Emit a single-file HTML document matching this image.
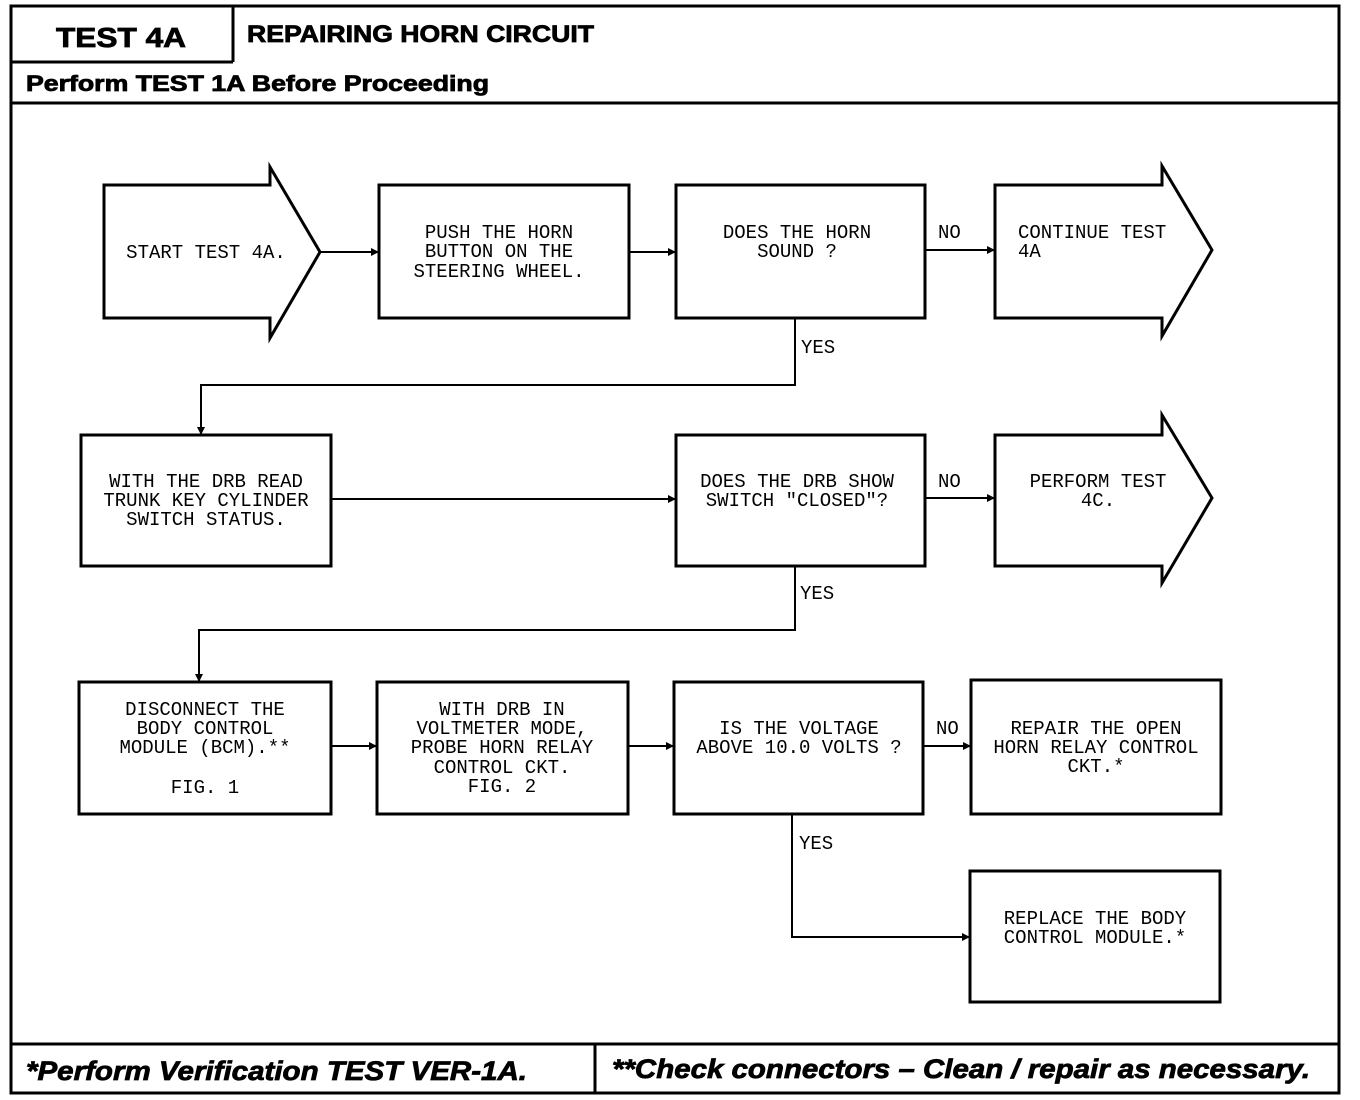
<!DOCTYPE html>
<html><head><meta charset="utf-8"><style>
html,body{margin:0;padding:0;background:#fff;}
svg{display:block}
.t{font-family:"Liberation Mono",monospace;font-size:19px;fill:#000;text-anchor:middle}
.l{font-family:"Liberation Mono",monospace;font-size:19px;fill:#000}
.h{font-family:"Liberation Sans",sans-serif;font-weight:bold;fill:#000;stroke:#000;stroke-width:0.8}
</style></head><body>
<svg width="1360" height="1100" viewBox="0 0 1360 1100" xmlns="http://www.w3.org/2000/svg">
<defs><marker id="a" markerWidth="8" markerHeight="8" refX="7" refY="4" orient="auto" markerUnits="userSpaceOnUse"><path d="M0,0 L8,4 L0,8 Z" fill="#000"/></marker></defs>
<g fill="none" stroke="#000" stroke-width="3">
<rect x="11" y="6" width="1328" height="1087"/>
<line x1="11" y1="62" x2="233" y2="62"/>
<line x1="233" y1="6" x2="233" y2="62"/>
<line x1="11" y1="103" x2="1339" y2="103"/>
<line x1="11" y1="1044" x2="1339" y2="1044"/>
<line x1="595" y1="1044" x2="595" y2="1093"/>
<path d="M104,185 H270 V167 L320,252 L270,338 V318 H104 Z"/>
<rect x="379" y="185" width="250" height="133"/>
<rect x="676" y="185" width="249" height="133"/>
<path d="M995,185 H1162 V166 L1212,250 L1162,336 V318 H995 Z"/>
<rect x="81" y="435" width="250" height="131"/>
<rect x="676" y="435" width="249" height="131"/>
<path d="M995,435 H1162 V415 L1212,498 L1162,583 V566 H995 Z"/>
<rect x="79" y="682" width="252" height="132"/>
<rect x="377" y="682" width="251" height="132"/>
<rect x="674" y="682" width="249" height="132"/>
<rect x="971" y="680" width="250" height="134"/>
<rect x="970" y="871" width="250" height="131"/>
</g>
<g fill="none" stroke="#000" stroke-width="2" marker-end="url(#a)">
<line x1="320" y1="252" x2="378" y2="252"/>
<line x1="629" y1="252" x2="675" y2="252"/>
<line x1="925" y1="250" x2="994" y2="250"/>
<polyline points="795,318 795,385 201,385 201,434"/>
<line x1="331" y1="499" x2="675" y2="499"/>
<line x1="925" y1="498" x2="994" y2="498"/>
<polyline points="795,566 795,630 199,630 199,681"/>
<line x1="331" y1="746" x2="376" y2="746"/>
<line x1="628" y1="746" x2="673" y2="746"/>
<line x1="923" y1="746" x2="970" y2="746"/>
<polyline points="792,814 792,937 969,937"/>
</g>
<text class="h" x="56" y="47" font-size="28" textLength="130" lengthAdjust="spacingAndGlyphs">TEST 4A</text>
<text class="h" x="247" y="42" font-size="24" textLength="347" lengthAdjust="spacingAndGlyphs">REPAIRING HORN CIRCUIT</text>
<text class="h" x="26" y="91" font-size="22" textLength="463" lengthAdjust="spacingAndGlyphs">Perform TEST 1A Before Proceeding</text>
<text class="h" x="26" y="1080" font-size="27" font-style="italic" textLength="501" lengthAdjust="spacingAndGlyphs">*Perform Verification TEST VER-1A.</text>
<text class="h" x="612" y="1078" font-size="27" font-style="italic" textLength="698" lengthAdjust="spacingAndGlyphs">**Check connectors – Clean / repair as necessary.</text>
<text class="t" x="206" y="258">START TEST 4A.</text>
<text class="t" x="499" y="238">PUSH THE HORN</text>
<text class="t" x="499" y="257">BUTTON ON THE</text>
<text class="t" x="499" y="277">STEERING WHEEL.</text>
<text class="t" x="797" y="238">DOES THE HORN</text>
<text class="t" x="797" y="257">SOUND ?</text>
<text class="l" x="938" y="238">NO</text>
<text class="l" x="1018" y="238">CONTINUE TEST</text>
<text class="l" x="1018" y="257">4A</text>
<text class="l" x="801" y="353">YES</text>
<text class="t" x="206" y="487">WITH THE DRB READ</text>
<text class="t" x="206" y="506">TRUNK KEY CYLINDER</text>
<text class="t" x="206" y="525">SWITCH STATUS.</text>
<text class="t" x="797" y="487">DOES THE DRB SHOW</text>
<text class="t" x="797" y="506">SWITCH "CLOSED"?</text>
<text class="l" x="938" y="487">NO</text>
<text class="t" x="1098" y="487">PERFORM TEST</text>
<text class="t" x="1098" y="506">4C.</text>
<text class="l" x="800" y="599">YES</text>
<text class="t" x="205" y="715">DISCONNECT THE</text>
<text class="t" x="205" y="734">BODY CONTROL</text>
<text class="t" x="205" y="753">MODULE (BCM).**</text>
<text class="t" x="205" y="793">FIG. 1</text>
<text class="t" x="502" y="715">WITH DRB IN</text>
<text class="t" x="502" y="734">VOLTMETER MODE,</text>
<text class="t" x="502" y="753">PROBE HORN RELAY</text>
<text class="t" x="502" y="773">CONTROL CKT.</text>
<text class="t" x="502" y="792">FIG. 2</text>
<text class="t" x="799" y="734">IS THE VOLTAGE</text>
<text class="t" x="799" y="753">ABOVE 10.0 VOLTS ?</text>
<text class="l" x="936" y="734">NO</text>
<text class="t" x="1096" y="734">REPAIR THE OPEN</text>
<text class="t" x="1096" y="753">HORN RELAY CONTROL</text>
<text class="t" x="1096" y="772">CKT.*</text>
<text class="l" x="799" y="849">YES</text>
<text class="t" x="1095" y="924">REPLACE THE BODY</text>
<text class="t" x="1095" y="943">CONTROL MODULE.*</text>
</svg>
</body></html>
